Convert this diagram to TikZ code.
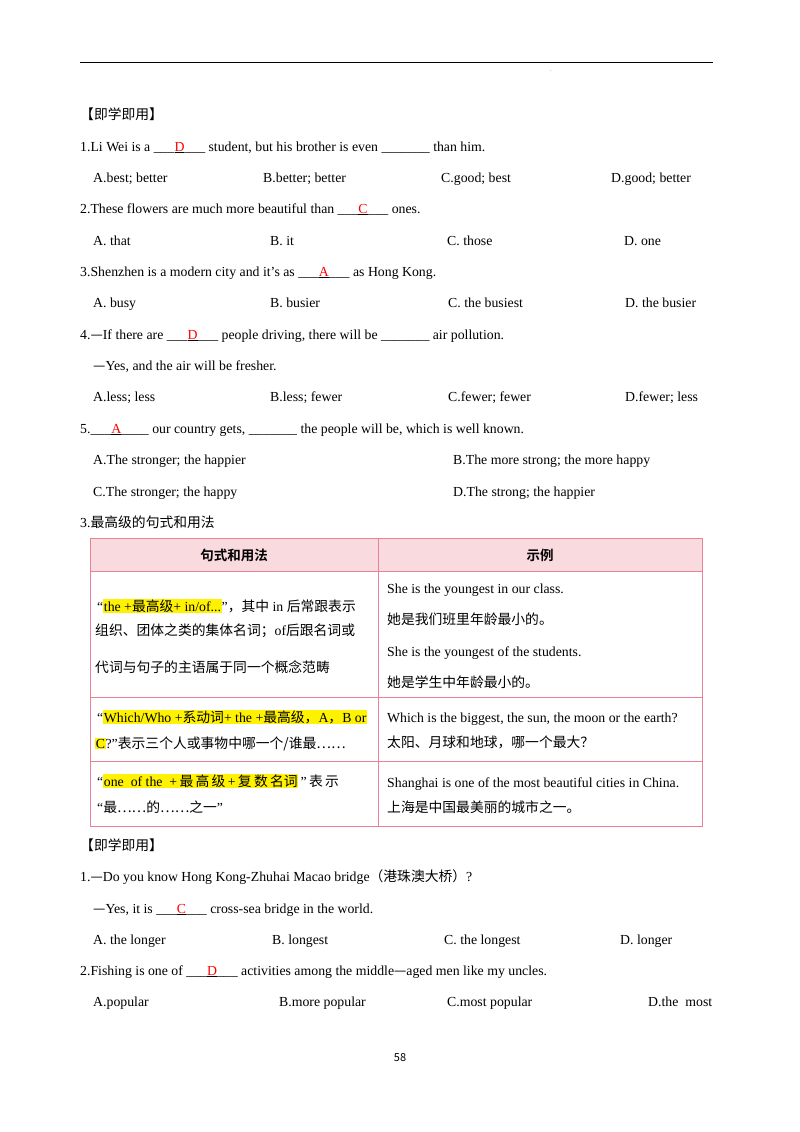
\documentclass[tikz,border=0pt]{standalone}
\usepackage{fontspec}
\setmainfont{Liberation Serif}
\newfontfamily\cjk{Noto Sans CJK SC}
\newfontfamily\cjkb{Noto Sans CJK SC}[BoldFont={* Bold}]
\definecolor{tb}{RGB}{232,130,150}
\definecolor{th}{RGB}{248,218,223}
\newcommand{\T}[3]{\node[anchor=base west,inner sep=0] at (#1,#2) {#3};}
\newcommand{\ans}[1]{\_\_\_\underline{\textcolor{red}{#1}}\_\_\_}
\newcommand{\hl}[1]{{\setlength{\fboxsep}{0.6pt}\colorbox{yellow}{#1}}}
\newcommand{\C}[1]{{\cjk #1}}
\begin{document}
\begin{tikzpicture}[x=1pt,y=-1pt,font=\fontsize{13.8}{16}\selectfont]
\useasboundingbox (0,0) rectangle (800,1132);
\fill[white] (0,0) rectangle (800,1132);
\draw[line width=0.8pt] (80,62) -- (713,62);
\node[font=\tiny] at (551,71) {.};
\T{80}{119}{\C{【即学即用】}}
\T{80}{151}{1.Li Wei is a \ans{D} student, but his brother is even \_\_\_\_\_\_\_ than him.}
\T{93}{182}{A.best; better}\T{263}{182}{B.better; better}\T{441}{182}{C.good; best}\T{611}{182}{D.good; better}
\T{80}{213}{2.These flowers are much more beautiful than \ans{C} ones.}
\T{93}{245}{A. that}\T{270}{245}{B. it}\T{447}{245}{C. those}\T{624}{245}{D. one}
\T{80}{276}{3.Shenzhen is a modern city and it's as \ans{A} as Hong Kong.}
\T{93}{307}{A. busy}\T{270}{307}{B. busier}\T{448}{307}{C. the busiest}\T{625}{307}{D. the busier}
\T{80}{339}{4.\C{—}If there are \ans{D} people driving, there will be \_\_\_\_\_\_\_ air pollution.}
\T{93}{370}{\C{—}Yes, and the air will be fresher.}
\T{93}{401}{A.less; less}\T{270}{401}{B.less; fewer}\T{448}{401}{C.fewer; fewer}\T{625}{401}{D.fewer; less}
\T{80}{433}{5.\ans{A}\_ our country gets, \_\_\_\_\_\_\_ the people will be, which is well known.}
\T{93}{464}{A.The stronger; the happier}\T{453}{464}{B.The more strong; the more happy}
\T{93}{496}{C.The stronger; the happy}\T{453}{496}{D.The strong; the happier}
\T{80}{527}{3.\C{最高级的句式和用法}}
% table
\fill[th] (90,538) rectangle (702,571);
\draw[tb,line width=1pt] (90,538) rectangle (702,826);
\draw[tb,line width=1pt] (90,571) -- (702,571) (90,697) -- (702,697) (90,761) -- (702,761) (378,538) -- (378,826);
\node[font=\cjkb\bfseries\fontsize{13.5}{15}\selectfont] at (234,555) {句式和用法};
\node[font=\cjkb\bfseries\fontsize{13.5}{15}\selectfont] at (540,555) {示例};
\T{97}{611}{“\hl{the +\C{最高级}+ in/of...}”\C{，其中} in \C{后常跟表示}}
\T{95}{635}{\C{组织、团体之类的集体名词；}of\C{后跟名词或}}
\T{95}{672}{\C{代词与句子的主语属于同一个概念范畴}}
\T{387}{593}{She is the youngest in our class.}
\T{387}{624}{\C{她是我们班里年龄最小的。}}
\T{387}{656}{She is the youngest of the students.}
\T{387}{687}{\C{她是学生中年龄最小的。}}
\T{97}{722}{“\hl{Which/Who +\C{系动词}+ the +\C{最高级，}A\C{，}B or}}
\T{95}{748}{\hl{C}?”\C{表示三个人或事物中哪一个/谁最……}}
\T{387}{722}{Which is the biggest, the sun, the moon or the earth?}
\T{387}{747}{\C{太阳、月球和地球，哪一个最大？}}
\T{97}{786}{“\hl{one\ \ of the \ +\,\C{最\,高\,级}\,+\,\C{复\,数\,名词}}\,”\C{\,表\,示}}
\T{97}{812}{“\C{最……的……之一}”}
\T{387}{787}{Shanghai is one of the most beautiful cities in China.}
\T{387}{812}{\C{上海是中国最美丽的城市之一。}}
\T{80}{850}{\C{【即学即用】}}
\T{80}{881}{1.\C{—}Do you know Hong Kong-Zhuhai Macao bridge\C{（港珠澳大桥）}?}
\T{93}{913}{\C{—}Yes, it is \ans{C} cross-sea bridge in the world.}
\T{93}{944}{A. the longer}\T{272}{944}{B. longest}\T{444}{944}{C. the longest}\T{620}{944}{D. longer}
\T{80}{975}{2.Fishing is one of \ans{D} activities among the middle\C{—}aged men like my uncles.}
\T{93}{1006}{A.popular}\T{279}{1006}{B.more popular}\T{447}{1006}{C.most popular}\T{648}{1006}{D.the\ \ most}
\node[font=\cjk\fontsize{11}{12}\selectfont] at (400,1058) {58};
\end{tikzpicture}
\end{document}
